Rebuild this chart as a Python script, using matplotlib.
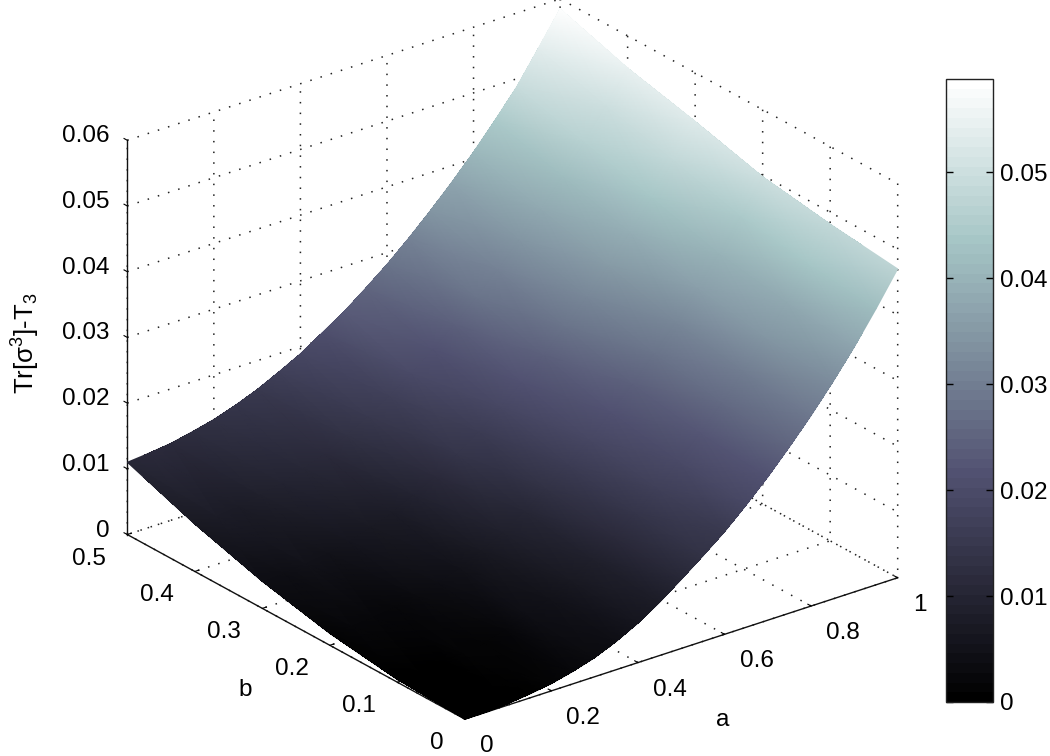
"""
Tr[sigma^3]-T3 surface over (a, b), bone colormap, MATLAB look.
"""

import matplotlib
matplotlib.use("Agg")
import matplotlib.pyplot as plt
import numpy as np
from mpl_toolkits.mplot3d import proj3d

plt.rcParams["font.family"] = ["Liberation Sans", "DejaVu Sans"]
plt.rcParams["mathtext.fontset"] = "custom"
plt.rcParams["mathtext.rm"] = "Liberation Sans"
plt.rcParams["mathtext.it"] = "Liberation Sans"

FS = 17.5

a_values = [0.00, 0.05, 0.10, 0.15, 0.20, 0.25, 0.30, 0.35, 0.40, 0.45, 0.50,
            0.55, 0.60, 0.65, 0.70, 0.75, 0.80, 0.85, 0.90, 0.95, 1.00]
b_values = [0.0, 0.1, 0.2, 0.3, 0.4, 0.5]

# one row per b
z_b00 = [0.0000, 0.0000, 0.0002, 0.0006, 0.0011, 0.0019, 0.0029, 0.0043, 0.0060, 0.0081, 0.0105,
         0.0130, 0.0156, 0.0186, 0.0218, 0.0253, 0.0290, 0.0330, 0.0373, 0.0420, 0.0470]
z_b01 = [0.0004, 0.0005, 0.0008, 0.0012, 0.0017, 0.0026, 0.0037, 0.0052, 0.0069, 0.0091, 0.0114,
         0.0139, 0.0166, 0.0197, 0.0229, 0.0264, 0.0301, 0.0342, 0.0385, 0.0432, 0.0482]
z_b02 = [0.0018, 0.0019, 0.0022, 0.0027, 0.0033, 0.0042, 0.0053, 0.0069, 0.0086, 0.0108, 0.0131,
         0.0157, 0.0184, 0.0215, 0.0247, 0.0283, 0.0320, 0.0361, 0.0403, 0.0449, 0.0498]
z_b03 = [0.0041, 0.0043, 0.0047, 0.0052, 0.0059, 0.0070, 0.0082, 0.0098, 0.0115, 0.0138, 0.0162,
         0.0188, 0.0215, 0.0246, 0.0278, 0.0313, 0.0350, 0.0390, 0.0432, 0.0478, 0.0526]
z_b04 = [0.0072, 0.0074, 0.0078, 0.0084, 0.0092, 0.0103, 0.0115, 0.0132, 0.0150, 0.0171, 0.0194,
         0.0220, 0.0247, 0.0277, 0.0309, 0.0344, 0.0380, 0.0419, 0.0460, 0.0505, 0.0551]
z_b05 = [0.0110, 0.0113, 0.0117, 0.0124, 0.0132, 0.0143, 0.0156, 0.0172, 0.0189, 0.0210, 0.0231,
         0.0256, 0.0282, 0.0311, 0.0342, 0.0375, 0.0410, 0.0448, 0.0488, 0.0536, 0.0585]

a_ticks = [0, 0.2, 0.4, 0.6, 0.8, 1]
a_labels = ["0", "0.2", "0.4", "0.6", "0.8", "1"]
b_ticks = [0, 0.1, 0.2, 0.3, 0.4, 0.5]
b_labels = ["0", "0.1", "0.2", "0.3", "0.4", "0.5"]
z_ticks = [0, 0.01, 0.02, 0.03, 0.04, 0.05, 0.06]
z_labels = ["0", "0.01", "0.02", "0.03", "0.04", "0.05", "0.06"]
cbar_ticks = [0, 0.01, 0.02, 0.03, 0.04, 0.05]
cbar_labels = ["0", "0.01", "0.02", "0.03", "0.04", "0.05"]
cbar_top = 0.0588

A, B = np.meshgrid(a_values, b_values)
Z = np.array([z_b00, z_b01, z_b02, z_b03, z_b04, z_b05])

W, H = 1050, 756
cmap = plt.get_cmap("bone", 64)
norm = plt.Normalize(0, cbar_top)

fig = plt.figure(figsize=(W / 100, H / 100), dpi=100, facecolor="white")
ax = fig.add_axes([142.5 / W, 27 / H, 720.5 / W, 720.5 / H], projection="3d", proj_type="ortho")
ax.set_facecolor("none")
ax.view_init(elev=25, azim=232.3)
ax.set_box_aspect((547, 552, 435), zoom=1.2)
ax.set_xlim(0, 1)
ax.set_ylim(0, 0.5)
ax.set_zlim(0, 0.06)

surf = ax.plot_surface(A, B, Z, cmap=cmap, norm=norm, rstride=1, cstride=1,
                       linewidth=0, antialiased=False, shade=False)

# tick marks stay native, the labels go on below with pixel offsets like MATLAB's
ax.set_xticks(a_ticks, [""] * len(a_ticks))
ax.set_yticks(b_ticks, [""] * len(b_ticks))
ax.set_zticks(z_ticks, [""] * len(z_ticks))

for axis in (ax.xaxis, ax.yaxis, ax.zaxis):
    axis.set_pane_color((1, 1, 1, 1))
    axis.pane.set_edgecolor("none")
    axis.line.set_color("#111111")
    axis.line.set_linewidth(1.0)
    axis._axinfo["grid"].update(color="#222222", linewidth=1.1, linestyle=(0, (1, 6)))
    axis._axinfo["tick"].update(inward_factor=0.0, outward_factor=0.12)

# z ticks point along b in the reference, not along a
ax.zaxis._get_tickdir = lambda pos: 1

# smooth colours between the read values: gouraud mesh through the 3D projection
fig.canvas.draw()
M = ax.get_proj()
overlay = fig.add_axes([0, 0, 1, 1], facecolor="none")
overlay.set_axis_off()
overlay.set_xlim(0, 1)
overlay.set_ylim(0, 1)
px, py, _ = proj3d.proj_transform(A.ravel(), B.ravel(), Z.ravel(), M)
overlay.pcolormesh(np.reshape(px, A.shape), np.reshape(py, A.shape), Z, shading="gouraud",
                   cmap=cmap, norm=norm, transform=ax.transData)
overlay.set_xlim(0, 1)
overlay.set_ylim(0, 1)


def tick_labels(xs, ys, zs, labels, dx, dy, ha):
    tx, ty, _ = proj3d.proj_transform(np.array(xs, float), np.array(ys, float), np.array(zs, float), M)
    for x, y, text in zip(tx, ty, labels):
        overlay.annotate(text, xy=(x, y), xycoords=ax.transData, xytext=(dx, dy),
                         textcoords="offset pixels", fontsize=FS, ha=ha, va="center")


n = len(a_ticks)
tick_labels(a_ticks, [0] * n, [0] * n, a_labels, 15, -27, "left")
n = len(b_ticks)
tick_labels([0] * n, b_ticks, [0] * n, b_labels, -21, -24, "right")
n = len(z_ticks)
tick_labels([0] * n, [0.5] * n, z_ticks, z_labels, -18, 4, "right")

fig.text(723 / W, 1 - 720 / H, "a", fontsize=FS, ha="center", va="center")
fig.text(245 / W, 1 - 690 / H, "b", fontsize=FS, ha="center", va="center")
fig.text(26 / W, 1 - 343 / H, r"Tr[$\mathrm{\sigma}^{3}$]-T$_{3}$", fontsize=18.5,
         rotation=90, ha="center", va="center")

cax = fig.add_axes([946 / W, 54 / H, 47 / W, 623 / H])
cb = fig.colorbar(surf, cax=cax)
cb.set_ticks(cbar_ticks, labels=cbar_labels)
cax.tick_params(axis="y", direction="in", left=True, right=True, length=5, width=1,
                labelsize=FS, pad=5)
cb.outline.set_linewidth(1.0)
cb.outline.set_edgecolor("#222222")

fig.savefig("out.png", dpi=100)
